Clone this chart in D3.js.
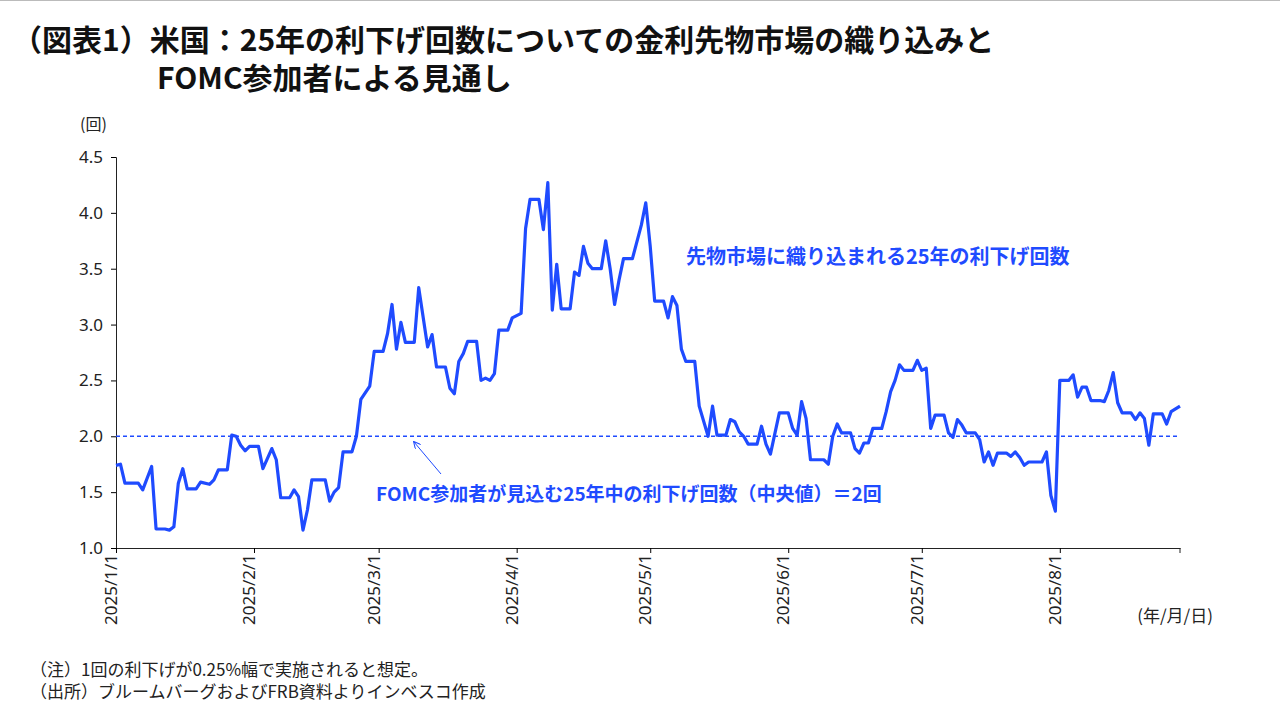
<!DOCTYPE html>
<html><head><meta charset="utf-8">
<script src="https://cdn.jsdelivr.net/npm/d3@7"></script>
<style>
body{margin:0;background:#fff;font-family:"Noto Sans CJK JP","Noto Sans",sans-serif;}
</style></head><body>
<svg id="chart" width="1280" height="720"></svg>
<script>
// days since 2025-01-01
let days = [0,1,2,5,6,8,9,11,12,13,14,15,16,18,19,21,22,23,25,26,27,28,29,30,32,33,35,36,37,39,40,41,42,43,44,47,48,49,50,51,53,54,55,57,58,60,61,62,63,64,65,67,68,70,71,72,74,75,76,77,78,79,81,82,83,84,85,86,88,89,91,92,93,95,96,97,98,99,100,102,103,104,105,106,107,109,110,111,112,113,114,116,117,118,119,120,121,123,124,125,126,127,128,130,131,133,134,135,137,138,139,140,141,142,144,145,146,147,149,151,152,153,154,155,156,159,160,161,162,163,165,166,167,168,169,170,172,173,174,175,176,177,179,180,181,182,183,184,186,187,188,189,190,191,193,194,195,196,197,198,200,201,202,203,204,205,208,209,210,211,212,214,215,216,217,218,219,221,222,223,224,225,226,228,229,230,231,232,233,235,236,237,239];
let cuts = [1.74,1.75,1.58,1.58,1.52,1.73,1.17,1.17,1.16,1.19,1.58,1.71,1.53,1.53,1.59,1.57,1.61,1.70,1.70,2.01,2.00,1.92,1.87,1.91,1.91,1.71,1.89,1.79,1.45,1.45,1.52,1.46,1.16,1.34,1.61,1.61,1.42,1.50,1.54,1.86,1.86,2.00,2.33,2.45,2.76,2.76,2.92,3.18,2.78,3.02,2.84,2.84,3.33,2.80,2.91,2.62,2.62,2.43,2.38,2.67,2.74,2.85,2.85,2.50,2.52,2.50,2.56,2.95,2.95,3.06,3.10,3.86,4.12,4.12,3.85,4.27,3.13,3.54,3.14,3.14,3.47,3.44,3.70,3.55,3.50,3.50,3.75,3.50,3.18,3.40,3.59,3.59,3.74,3.89,4.09,3.70,3.21,3.21,3.06,3.25,3.17,2.78,2.67,2.67,2.27,2.00,2.27,2.01,2.01,2.15,2.13,2.04,2.00,1.93,1.93,2.09,1.93,1.84,2.21,2.21,2.07,2.01,2.31,2.16,1.79,1.79,1.75,2.00,2.11,2.03,2.03,1.89,1.85,1.94,1.94,2.07,2.07,2.22,2.40,2.50,2.64,2.59,2.59,2.68,2.59,2.61,2.07,2.19,2.19,2.03,1.99,2.15,2.10,2.03,2.03,1.97,1.77,1.86,1.74,1.85,1.85,1.82,1.86,1.81,1.74,1.77,1.77,1.86,1.47,1.33,2.50,2.50,2.55,2.35,2.44,2.44,2.32,2.32,2.31,2.41,2.57,2.30,2.21,2.21,2.15,2.21,2.16,1.92,2.20,2.20,2.11,2.22,2.27];
let fomcMedian = 2;
let yTicks = [1.0,1.5,2.0,2.5,3.0,3.5,4.0,4.5];
let monthTicks = ['2025/1/1','2025/2/1','2025/3/1','2025/4/1','2025/5/1','2025/6/1','2025/7/1','2025/8/1'];

let blue = '#1f4bff';
let start = new Date(2025, 0, 1);
let data = days.map((d, i) => ({date: d3.timeDay.offset(start, d), v: cuts[i]}));
let svg = d3.select('#chart');

svg.append('line').attr('x1', 0).attr('x2', 1280).attr('y1', 0.5).attr('y2', 0.5).attr('stroke', '#bbb');

let title = svg.append('text').attr('font-size', 30).attr('font-weight', 'bold').attr('fill', '#111');
title.append('tspan').attr('x', 12).attr('y', 51).text('（図表1）米国：25年の利下げ回数についての金利先物市場の織り込みと');
title.append('tspan').attr('x', 157).attr('y', 89).text('FOMC参加者による見通し');

let x = d3.scaleTime().domain([start, d3.timeDay.offset(start, 239)]).range([116, 1180]);
let y = d3.scaleLinear().domain([1, 4.5]).range([548, 157]);

svg.append('g').attr('transform', 'translate(116,0)')
  .call(d3.axisLeft(y).tickValues(yTicks).tickFormat(d3.format('.1f')).tickSize(5).tickPadding(8))
  .call(g => g.selectAll('text').attr('font-size', 17).attr('fill', '#222').attr('font-family', 'Noto Sans, sans-serif'))
  .call(g => g.select('.domain').attr('stroke', '#222'));

let tickDates = monthTicks.map(s => { let p = s.split('/'); return new Date(+p[0], +p[1] - 1, +p[2]); });
svg.append('g').attr('transform', 'translate(0,548)')
  .call(d3.axisBottom(x).tickValues(tickDates).tickFormat((d, i) => monthTicks[i]).tickSize(5).tickSizeOuter(0))
  .call(g => g.select('.domain').attr('stroke', '#222'))
  .call(g => g.selectAll('text').attr('font-size', 17).attr('fill', '#222').attr('font-family', 'Noto Sans, sans-serif')
    .attr('transform', 'rotate(-90)').attr('text-anchor', 'end').attr('dx', '-6').attr('dy', '-0.45em'));
svg.append('line').attr('x1', 1180).attr('x2', 1180).attr('y1', 548).attr('y2', 553).attr('stroke', '#222');

svg.append('text').attr('x', 80).attr('y', 130).attr('font-size', 16).attr('fill', '#222').text('(回)');
svg.append('text').attr('x', 1213).attr('y', 622).attr('text-anchor', 'end').attr('font-size', 17).attr('fill', '#222').text('(年/月/日)');

svg.append('line').attr('x1', 116).attr('x2', 1180).attr('y1', y(fomcMedian)).attr('y2', y(fomcMedian))
  .attr('stroke', blue).attr('stroke-width', 1.5).attr('stroke-dasharray', '4,3');

svg.append('path').datum(data)
  .attr('d', d3.line().x(d => x(d.date)).y(d => y(d.v)))
  .attr('fill', 'none').attr('stroke', blue).attr('stroke-width', 3.2).attr('stroke-linejoin', 'round');

svg.append('defs').append('marker').attr('id', 'arr').attr('viewBox', '0 0 10 10').attr('refX', 9).attr('refY', 5)
  .attr('markerWidth', 7).attr('markerHeight', 7).attr('orient', 'auto')
  .append('path').attr('d', 'M0,0L10,5L0,10').attr('fill', 'none').attr('stroke', blue).attr('stroke-width', 1.5);
svg.append('line').attr('x1', 441).attr('y1', 474).attr('x2', 414).attr('y2', 442)
  .attr('stroke', blue).attr('stroke-width', 1).attr('marker-end', 'url(#arr)');

svg.append('text').attr('x', 376).attr('y', 501).attr('font-size', 19).attr('font-weight', 'bold').attr('fill', blue)
  .text('FOMC参加者が見込む25年中の利下げ回数（中央値）＝2回');
svg.append('text').attr('x', 686).attr('y', 264).attr('font-size', 20).attr('font-weight', 'bold').attr('fill', blue)
  .text('先物市場に織り込まれる25年の利下げ回数');

svg.append('text').attr('x', 30).attr('y', 676).attr('font-size', 17).attr('fill', '#222').text('（注）1回の利下げが0.25%幅で実施されると想定。');
svg.append('text').attr('x', 30).attr('y', 698).attr('font-size', 17).attr('fill', '#222').text('（出所）ブルームバーグおよびFRB資料よりインベスコ作成');
</script>
</body></html>
